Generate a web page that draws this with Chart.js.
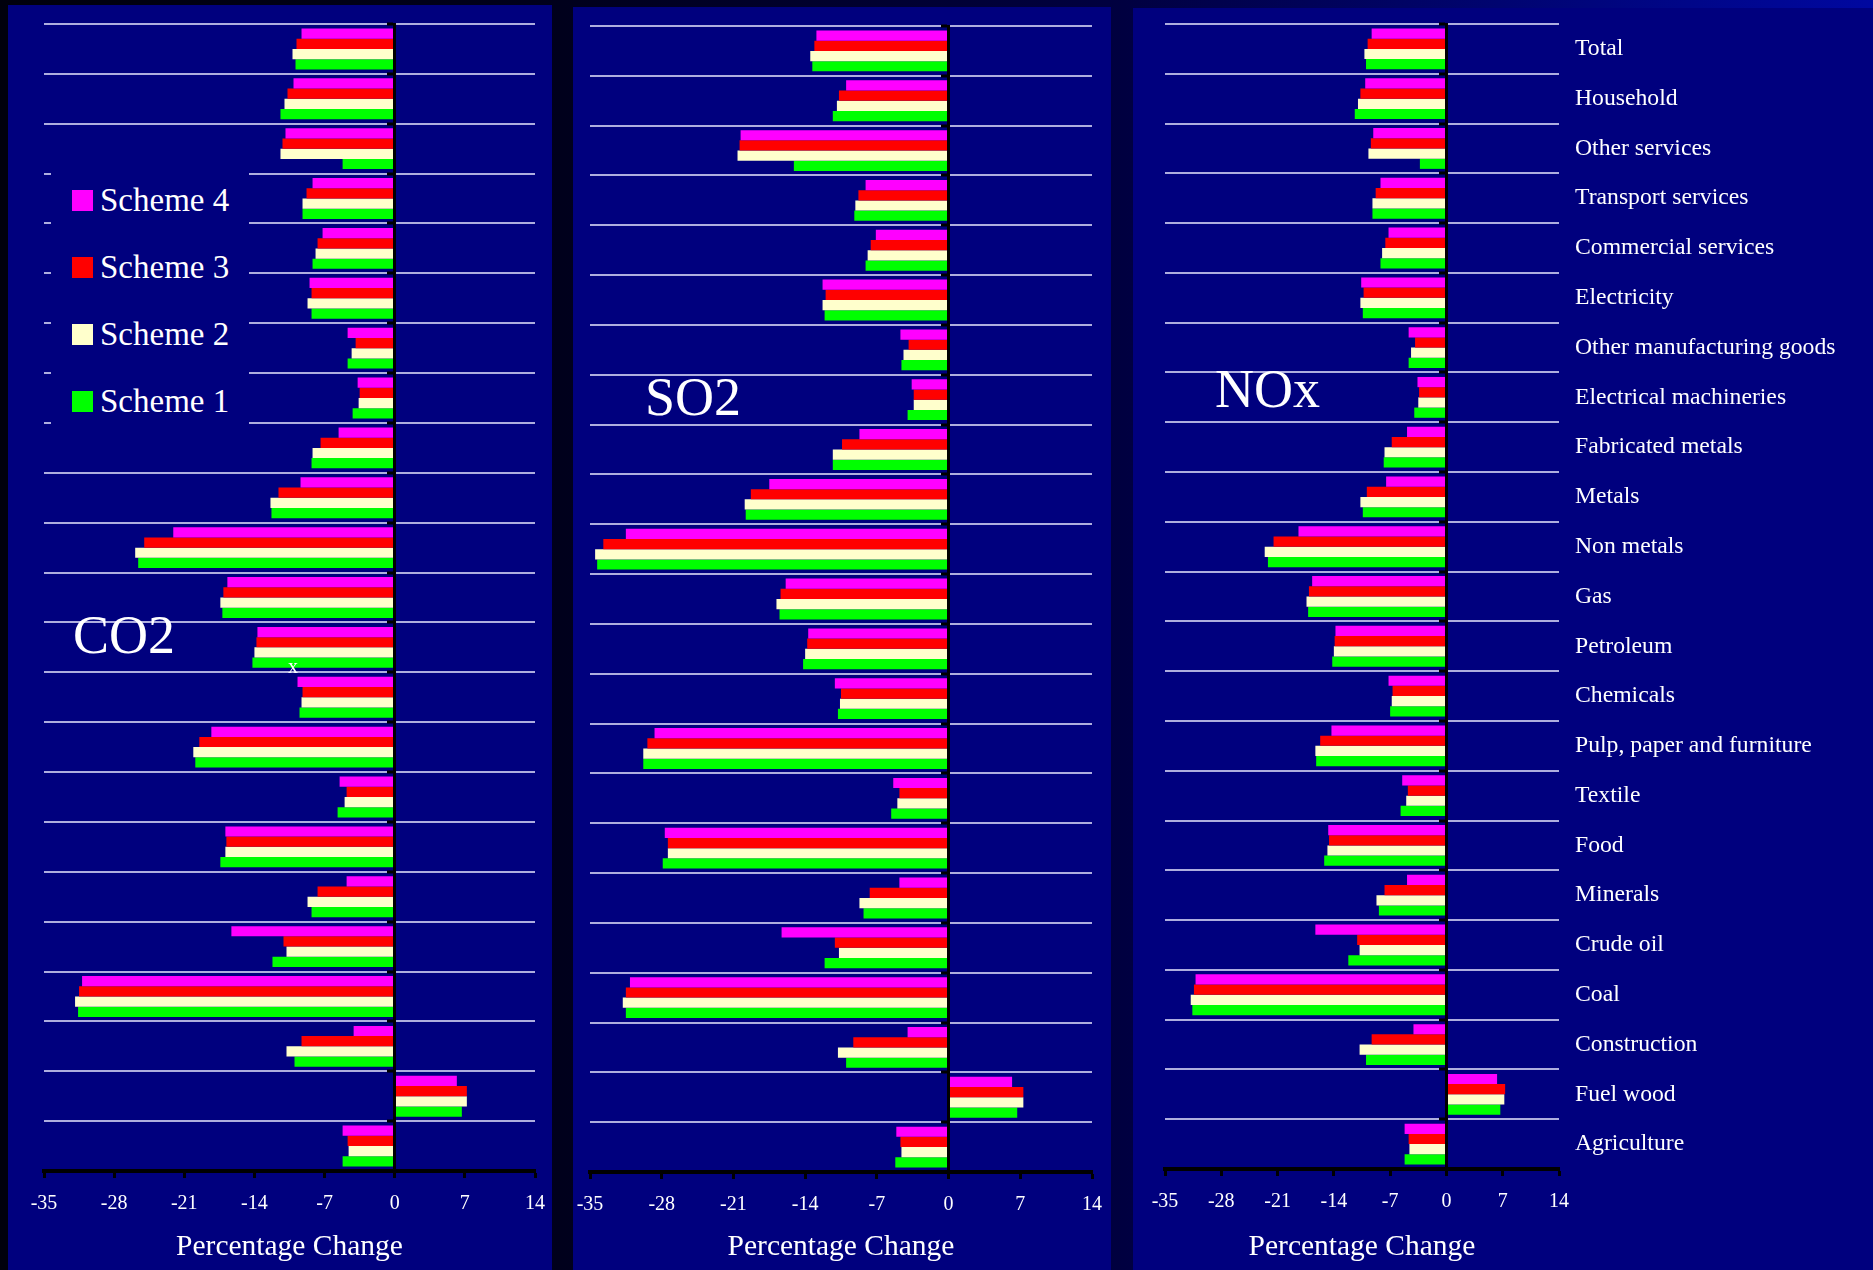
<!DOCTYPE html>
<html>
<head>
<meta charset="utf-8">
<script src="https://cdn.jsdelivr.net/npm/chart.js@4.4.0/dist/chart.umd.min.js"></script>
<style>
  body { margin: 0; width: 1873px; height: 1270px; overflow: hidden; position: relative;
         background: linear-gradient(90deg, #00000c 0%, #00001c 30%, #000040 60%, #0008a0 100%);
         font-family: 'Liberation Serif', 'Times New Roman', serif; }
  .panel { position: absolute; background: #00007e; }
  .panel canvas { position: absolute; left: 0; top: 0; }
  .big { position: absolute; color: #fff; font-size: 54px; line-height: 1; white-space: nowrap; }
  .legend { position: absolute; left: 51px; top: 150px; width: 198px; height: 298px; background: #00007e; }
  .sw { position: absolute; width: 21px; height: 21px; }
  .lt { position: absolute; color: #fff; font-size: 33px; line-height: 1; white-space: nowrap; }
</style>
</head>
<body>

<div class="panel" style="left:8px;top:5px;width:544px;height:1265px"><canvas id="co2" width="544" height="1265"></canvas></div>
<div class="panel" style="left:573px;top:7px;width:538px;height:1263px"><canvas id="so2" width="538" height="1263"></canvas></div>
<div class="panel" style="left:1133px;top:8px;width:740px;height:1262px"><canvas id="nox" width="740" height="1262"></canvas></div>

<div class="legend" id="legend"></div>
<div class="big" style="left:73px;top:608px">CO2</div>
<div class="big" style="left:645px;top:370px">SO2</div>
<div class="big" style="left:1215px;top:362px">NOx</div>
<div class="big" style="left:288px;top:656px;font-size:20px">x</div>

<script>
// sectors, top to bottom
var categories = ['Total', 'Household', 'Other services', 'Transport services', 'Commercial services',
  'Electricity', 'Other manufacturing goods', 'Electrical machineries', 'Fabricated metals', 'Metals',
  'Non metals', 'Gas', 'Petroleum', 'Chemicals', 'Pulp, paper and furniture', 'Textile', 'Food',
  'Minerals', 'Crude oil', 'Coal', 'Construction', 'Fuel wood', 'Agriculture'];

var schemeNames = ['Scheme 4', 'Scheme 3', 'Scheme 2', 'Scheme 1'];

// percentage change, CO2
var co2Scheme4 = [-9.3, -10.1, -10.9, -8.2, -7.2, -8.5, -4.7, -3.7, -5.6, -9.4, -22.1, -16.7, -13.7, -9.7, -18.3, -5.5, -16.9, -4.8, -16.3, -31.2, -4.1, 6.2, -5.2];
var co2Scheme3 = [-9.8, -10.7, -11.2, -8.8, -7.7, -8.3, -3.9, -3.5, -7.4, -11.6, -25.0, -17.1, -13.8, -9.2, -19.5, -4.8, -16.8, -7.7, -11.1, -31.5, -9.3, 7.2, -4.7];
var co2Scheme2 = [-10.2, -11.0, -11.4, -9.2, -7.9, -8.7, -4.3, -3.6, -8.2, -12.4, -25.9, -17.4, -14.0, -9.3, -20.1, -5.0, -16.9, -8.7, -10.8, -31.9, -10.8, 7.2, -4.6];
var co2Scheme1 = [-9.9, -11.4, -5.2, -9.2, -8.2, -8.3, -4.7, -4.2, -8.3, -12.3, -25.6, -17.2, -14.2, -9.5, -19.9, -5.7, -17.4, -8.3, -12.2, -31.6, -10.0, 6.7, -5.2];

// percentage change, SO2
var so2Scheme4 = [-12.9, -10.0, -20.3, -8.1, -7.1, -12.3, -4.7, -3.6, -8.7, -17.5, -31.5, -15.9, -13.7, -11.1, -28.7, -5.4, -27.7, -4.8, -16.3, -31.1, -4.0, 6.2, -5.1];
var so2Scheme3 = [-13.1, -10.7, -20.4, -8.8, -7.6, -12.0, -3.9, -3.4, -10.4, -19.3, -33.7, -16.4, -13.8, -10.5, -29.4, -4.8, -27.4, -7.7, -11.1, -31.5, -9.3, 7.3, -4.7];
var so2Scheme2 = [-13.5, -10.9, -20.6, -9.1, -7.9, -12.3, -4.4, -3.4, -11.3, -19.9, -34.5, -16.8, -14.0, -10.6, -29.8, -5.0, -27.4, -8.7, -10.7, -31.8, -10.8, 7.3, -4.6];
var so2Scheme1 = [-13.3, -11.3, -15.1, -9.2, -8.1, -12.1, -4.6, -4.0, -11.3, -19.8, -34.3, -16.5, -14.2, -10.8, -29.8, -5.6, -27.9, -8.3, -12.1, -31.5, -10.0, 6.7, -5.2];

// percentage change, NOx
var noxScheme4 = [-9.3, -10.1, -9.1, -8.2, -7.2, -10.6, -4.7, -3.6, -4.9, -7.5, -18.4, -16.7, -13.8, -7.2, -14.3, -5.5, -14.7, -4.9, -16.3, -31.2, -4.1, 6.3, -5.2];
var noxScheme3 = [-9.8, -10.7, -9.4, -8.8, -7.6, -10.3, -3.9, -3.4, -6.8, -9.9, -21.5, -17.1, -13.9, -6.7, -15.7, -4.8, -14.6, -7.7, -11.1, -31.4, -9.3, 7.3, -4.7];
var noxScheme2 = [-10.2, -11.0, -9.7, -9.2, -8.0, -10.7, -4.4, -3.5, -7.7, -10.7, -22.6, -17.4, -14.0, -6.8, -16.3, -5.0, -14.8, -8.7, -10.8, -31.8, -10.8, 7.2, -4.6];
var noxScheme1 = [-10.0, -11.4, -3.3, -9.2, -8.2, -10.4, -4.7, -4.0, -7.8, -10.4, -22.2, -17.2, -14.2, -7.0, -16.2, -5.7, -15.2, -8.4, -12.2, -31.6, -10.0, 6.7, -5.2];

// x axis ticks: -35 .. 14 step 7
var xMin = -35, xMax = 14, xStep = 7;

var schemeColors = ['#ff00ff', '#ff0000', '#ffffcc', '#00ff00'];
var gridColor = 'rgba(205,205,240,0.85)';
var serif = "'Liberation Serif', 'Times New Roman', serif";

Chart.defaults.font.family = serif;
Chart.defaults.color = '#ffffff';

function makePanel(id, series, pad, axisHeight, labelWidth) {
  var datasets = [];
  for (var i = 0; i < series.length; i++) {
    datasets.push({
      label: schemeNames[i],
      data: series[i],
      backgroundColor: schemeColors[i],
      borderWidth: 0,
      categoryPercentage: 0.82,
      barPercentage: 1.0
    });
  }

  var scales = {
    x: {
      min: xMin, max: xMax,
      ticks: {stepSize: xStep, color: '#fff', font: {size: 20}, padding: 14},
      grid: {drawOnChartArea: false, tickLength: 7, tickColor: '#000', tickWidth: 3},
      border: {color: '#000', width: 4, z: 1},
      title: {display: true, text: 'Percentage Change', color: '#fff', font: {size: 29.5}, padding: {top: 0, bottom: 5}},
      afterFit: function(s) { s.height = axisHeight; s.paddingLeft = 0; s.paddingRight = 0; }
    },
    y: {
      type: 'category',
      position: {x: 0},
      ticks: {display: false},
      grid: {color: gridColor, lineWidth: 2, tickColor: '#000', tickLength: 6, tickWidth: 3},
      border: {color: '#000', width: 3, z: 1},
      afterFit: function(s) { s.width = 0; s.paddingTop = 0; s.paddingBottom = 0; }
    }
  };

  if (labelWidth) {
    scales.y2 = {
      type: 'category',
      position: 'right',
      offset: true,
      grid: {display: false, drawTicks: false},
      border: {display: false},
      ticks: {color: '#fff', font: {size: 23.7}, padding: 16, autoSkip: false},
      afterFit: function(s) { s.width = labelWidth; s.paddingTop = 0; s.paddingBottom = 0; }
    };
  }

  return new Chart(document.getElementById(id), {
    type: 'bar',
    data: {labels: categories, datasets: datasets},
    options: {
      indexAxis: 'y',
      responsive: false,
      animation: false,
      layout: {padding: pad},
      plugins: {legend: {display: false}, tooltip: {enabled: false}},
      scales: scales
    }
  });
}

makePanel('co2', [co2Scheme4, co2Scheme3, co2Scheme2, co2Scheme1], {left: 36, right: 17, top: 19, bottom: 0}, 99, 0);
makePanel('so2', [so2Scheme4, so2Scheme3, so2Scheme2, so2Scheme1], {left: 17, right: 19, top: 19, bottom: 0}, 98, 0);
makePanel('nox', [noxScheme4, noxScheme3, noxScheme2, noxScheme1], {left: 32, right: 0, top: 16, bottom: 0}, 101, 314);

// legend, listed top to bottom like the bars
var legend = document.getElementById('legend');
for (var k = 0; k < schemeNames.length; k++) {
  var sw = document.createElement('div');
  sw.className = 'sw';
  sw.style.left = '21px';
  sw.style.top = (40 + k * 67) + 'px';
  sw.style.background = schemeColors[k];
  legend.appendChild(sw);
  var t = document.createElement('div');
  t.className = 'lt';
  t.style.left = '49px';
  t.style.top = (34 + k * 67) + 'px';
  t.textContent = schemeNames[k];
  legend.appendChild(t);
}
</script>
</body>
</html>
